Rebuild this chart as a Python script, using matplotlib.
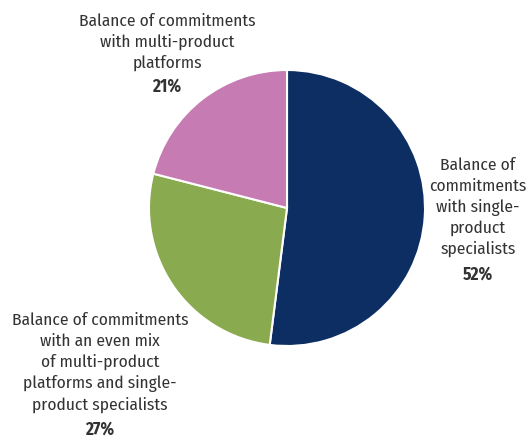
import matplotlib.pyplot as plt

# Share of commitments by platform type
labels = [
    "Balance of\ncommitments\nwith single-\nproduct\nspecialists",
    "Balance of commitments\nwith an even mix\nof multi-product\nplatforms and single-\nproduct specialists",
    "Balance of commitments\nwith multi-product\nplatforms",
]
shares = [52, 27, 21]
colors = ["#0d2e63", "#8aaa4f", "#c67cb3"]

plt.rcParams['font.family'] = ['Fira Sans Condensed', 'DejaVu Sans']
text_color = "#333333"

W, H = 528, 437
fig = plt.figure(figsize=(W / 100, H / 100), dpi=100)
ax = fig.add_axes([0, 0, 1, 1])

cx, cy, r = 287, H - 208, 138
ax.pie(shares, colors=colors, startangle=90, counterclock=False,
       center=(cx, cy), radius=r, frame=True,
       wedgeprops=dict(edgecolor="white", linewidth=1.5))
ax.set_xlim(0, W)
ax.set_ylim(0, H)
ax.set_aspect("equal")
ax.axis("off")

# label anchor: (x centre, y centre of first line), pixels from top
anchors = [(478, 163), (100, 318), (167, 20)]
line_h = 22.3
fs = 12.5
for text, share, (x, y) in zip(labels, shares, anchors):
    n = text.count("\n") + 1
    mid = y + (n - 1) * line_h / 2
    ax.text(x, H - mid, text, ha="center", va="center", fontsize=fs,
            color=text_color, linespacing=1.36)
    ax.text(x, H - (y + n * line_h), f"{share}%", ha="center", va="center",
            fontsize=fs, fontweight="bold", color=text_color)

fig.savefig("out.png", dpi=100)
